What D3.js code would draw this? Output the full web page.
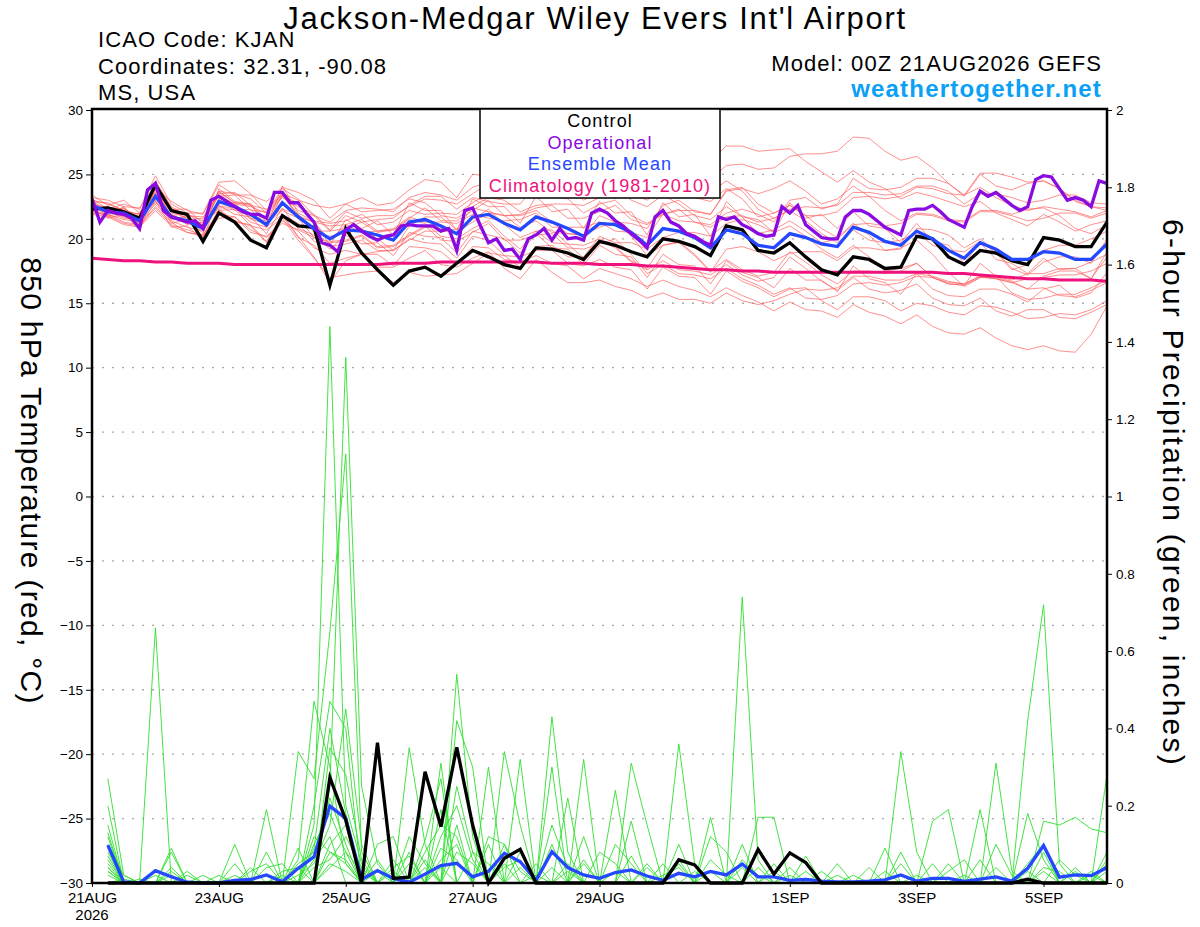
<!DOCTYPE html>
<html>
<head>
<meta charset="utf-8">
<script src="https://cdn.jsdelivr.net/npm/d3@7"></script>
<style>
  body { margin: 0; background: #fff; }
  svg { display: block; font-family: "Liberation Sans", Arial, Helvetica, sans-serif; }
</style>
</head>
<body>
<svg id="chart" width="1200" height="927"></svg>
<script>
// GEFS plume for KJAN, run 00Z 21AUG2026, 6-hourly out to 384 h
const runStart = Date.UTC(2026, 7, 21, 0);
const HOUR = 3600e3;

const tempTicks = [-30, -25, -20, -15, -10, -5, 0, 5, 10, 15, 20, 25, 30];
const precipTicks = [0, 0.2, 0.4, 0.6, 0.8, 1, 1.2, 1.4, 1.6, 1.8, 2];
const dateTicks = ["2026-08-21", "2026-08-23", "2026-08-25", "2026-08-27", "2026-08-29", "2026-09-01", "2026-09-03", "2026-09-05"];
const legendItems = ["Control", "Operational", "Ensemble Mean", "Climatology (1981-2010)"];

// 850 hPa temperature, 6-hourly (65 values, 0..384 h)
const controlTemp = [22.3,22.4,22.1,21.6,24.2,22.2,21.9,19.8, 22.0,21.3,19.9,19.3,21.8,21.0,20.9,16.4,
  20.8,18.9,17.6,16.4,17.5,17.8,17.1,18.1, 19.1,18.6,18.0,17.7,19.3,19.2,18.9,18.4,
  19.8,19.5,19.0,18.6,20.0,19.8,19.4,18.7, 21.0,20.7,19.1,18.9,19.7,18.6,17.6,17.2,
  18.6,18.4,17.7,17.8,20.2,20.0,18.6,18.0, 19.1,18.9,18.3,18.0,20.1,19.9,19.4,19.4,21.3];
const meanTemp = [22.6,22.1,22.0,21.4,23.3,21.7,21.4,20.8, 22.9,22.5,21.9,21.1,22.8,21.7,20.8,20.0,
  20.7,20.6,20.3,19.9,21.3,21.5,21.0,20.4, 21.7,21.9,21.2,20.7,21.7,21.3,20.8,20.2,
  21.2,21.1,20.5,19.5,20.8,20.6,20.1,19.3, 20.7,20.4,19.5,19.3,20.4,20.1,19.6,19.4,
  20.9,20.5,19.8,19.5,20.6,20.0,19.1,18.5, 19.7,19.2,18.4,18.4,19.0,18.9,18.4,18.4,19.6];
const climoTemp = [18.5,18.4,18.3,18.3,18.2,18.2,18.1,18.1, 18.1,18.0,18.0,18.0,18.0,18.0,18.0,18.0,
  18.0,18.0,18.0,18.1,18.1,18.1,18.2,18.2, 18.2,18.2,18.2,18.2,18.2,18.1,18.1,18.1,
  18.0,18.0,18.0,17.9,17.9,17.8,17.7,17.6, 17.6,17.5,17.5,17.4,17.4,17.4,17.4,17.4,
  17.4,17.4,17.4,17.4,17.4,17.4,17.3,17.3, 17.2,17.1,17.0,16.9,16.9,16.8,16.8,16.8,16.7];
// operational run is 3-hourly (129 values)
const operationalTemp = [23.1,21.3,22.2,22.0,21.9,21.6,20.8,23.8,24.3,22.2,
  21.7,21.5,21.3,21.4,20.8,23.0,23.3,22.9,22.5,22.1,
  21.9,21.9,21.6,23.6,23.6,22.8,22.8,22.0,21.3,19.7,
  19.5,19.0,20.7,21.1,20.6,20.2,19.9,20.2,20.3,21.0,
  21.1,21.0,21.0,21.0,20.6,20.8,19.1,22.2,22.4,21.0,
  19.7,20.0,19.1,19.2,18.4,20.0,20.3,20.8,19.9,20.8,
  20.0,20.1,19.9,22.0,22.3,22.0,21.4,21.0,20.4,19.9,
  19.3,21.7,22.2,21.3,21.0,20.4,20.2,19.8,19.5,21.7,
  21.5,21.7,21.1,20.8,20.4,20.2,20.3,22.5,22.0,22.6,
  21.1,20.6,20.1,20.0,20.0,21.7,22.2,22.2,21.9,21.4,
  20.9,20.6,20.3,22.2,22.3,22.3,22.6,22.1,21.5,21.2,
  20.9,22.5,23.7,23.3,23.6,23.1,22.6,22.2,22.5,24.6,
  24.9,24.8,23.9,23.0,23.2,23.0,22.5,24.5,24.3];

const tempMembers = [
  [23.0,22.7,22.2,21.9,24.1,22.0,21.9,21.4, 23.7,23.5,23.1,22.0,23.9,23.1,21.8,21.3, 22.2,22.4,22.3,22.1,23.2,23.6,23.4,23.0, 24.0,24.4,24.1,23.8,24.5,24.3,24.1,23.7, 24.4,24.7,24.5,23.9,24.9,25.1,25.0,24.6, 25.7,25.8,25.4,25.5,26.4,26.6,26.6,26.8, 27.9,27.8,26.8,26.1,26.4,25.5,24.3,23.4, 24.0,23.2,22.6,22.2,22.5,22.3,22.1,21.7,22.2],
  [22.1,21.8,21.2,21.0,22.4,21.1,20.7,20.3, 21.9,21.7,20.7,20.1,21.4,20.6,19.3,18.8, 19.1,18.8,18.8,17.9,19.4,19.3,19.0,18.0, 19.4,19.3,18.4,18.2,18.7,18.1,17.9,16.9, 17.7,17.3,16.9,16.3,16.8,16.3,16.0,15.5, 16.2,15.6,15.1,14.4,15.1,14.5,14.4,13.9, 14.9,14.3,14.0,13.4,14.1,13.2,12.7,12.6, 13.1,12.3,11.7,11.4,11.7,11.3,11.2,12.6,14.8],
  [22.9,22.2,22.4,21.6,23.9,22.1,21.6,21.1, 23.4,22.7,22.5,22.0,23.2,22.5,21.9,20.7, 22.1,21.6,21.8,21.8,22.5,23.1,23.0,22.7, 23.5,24.3,24.0,24.0,24.6,24.9,24.8,24.6, 25.4,25.9,25.7,25.3,26.2,26.5,26.4,26.1, 27.2,27.2,26.8,26.9,27.0,26.0,25.2,24.4, 25.3,24.4,23.9,23.1,23.6,23.3,22.9,22.5, 22.9,22.0,21.5,21.0,21.9,21.3,20.6,21.1,21.4],
  [22.4,21.6,21.9,20.8,23.0,20.9,21.0,19.9, 22.3,21.4,21.0,19.7,21.8,20.1,19.5,18.1, 18.5,18.8,17.8,17.8,18.5,19.1,18.0,17.8, 18.5,19.0,17.7,16.9,18.4,17.4,16.6,16.6, 16.8,16.3,16.0,15.4,15.8,15.3,15.3,15.0, 15.8,15.2,14.9,15.2,15.7,16.1,16.0,16.2, 17.1,17.1,16.8,16.8,17.3,17.1,16.7,16.5, 17.1,16.9,16.6,16.9,17.0,17.2,17.2,17.5,18.1],
  [23.2,23.0,22.5,22.4,24.0,22.9,22.2,21.9, 24.2,23.4,23.4,22.9,24.0,23.6,23.0,21.6, 22.7,23.2,22.6,22.8,23.8,24.6,24.4,23.2, 25.0,24.9,23.8,23.8,24.1,23.3,23.1,22.0, 22.7,23.0,21.8,21.2,21.9,21.4,21.3,20.9, 21.7,21.8,21.3,21.6,22.3,22.5,22.4,22.6, 23.6,23.6,23.4,23.5,24.1,24.1,23.7,22.7, 23.5,23.5,23.2,22.8,23.0,23.4,23.4,22.8,22.7],
  [22.2,21.9,21.5,21.3,22.7,21.4,20.9,20.6, 22.6,21.9,21.7,20.4,22.4,20.8,20.3,19.2, 20.3,19.6,19.7,18.7,20.5,20.2,20.1,18.9, 20.6,20.3,20.0,18.9,20.4,19.3,19.2,18.0, 19.5,18.8,18.6,17.0,18.8,18.0,17.9,16.5, 18.3,17.4,17.0,16.2,17.7,16.8,16.8,15.9, 17.9,16.9,16.6,15.7,17.3,16.1,15.6,15.5, 16.1,16.1,15.7,15.1,16.1,16.4,15.4,15.8,17.4],
  [22.8,21.8,22.5,21.2,24.2,21.6,21.7,20.4, 23.9,22.9,22.7,20.9,24.1,22.0,21.4,19.5, 21.5,20.8,21.4,20.3,22.8,22.2,22.2,20.7, 23.1,22.5,22.5,21.2,23.3,22.1,22.3,20.8, 22.9,22.0,22.1,20.3,22.8,21.7,21.9,20.2, 22.9,21.7,21.5,20.5,22.8,21.6,21.9,20.8, 22.1,21.0,20.8,19.7,21.2,19.8,19.5,18.1, 19.7,18.4,18.1,17.3,18.5,17.6,17.7,16.9,19.0],
  [22.5,22.4,21.8,21.8,22.8,21.9,21.1,21.3, 22.2,22.3,21.0,20.7,21.6,19.9,18.5,17.0, 17.2,17.4,17.5,16.6,17.4,17.1,17.2,17.3, 18.1,18.9,18.7,17.8,19.4,19.5,18.6,18.6, 20.2,19.7,19.7,19.2,20.1,20.5,20.5,20.2, 21.2,21.5,21.1,20.5,21.0,20.2,19.2,18.5, 19.5,18.6,17.5,17.7,18.1,17.0,16.5,16.4, 17.0,17.0,16.7,16.1,17.1,17.5,17.5,16.9,18.6],
  [23.1,22.3,22.7,22.3,24.9,22.7,22.0,22.0, 24.4,24.5,23.5,22.2,23.5,23.0,22.6,22.4, 22.7,22.1,22.2,22.3,23.1,22.8,21.8,21.6, 22.4,22.1,21.8,21.8,22.2,21.3,20.4,20.3, 20.9,21.3,21.2,20.8,22.6,23.0,22.1,21.9, 23.7,23.9,23.5,23.9,24.5,23.7,22.7,23.1, 24.1,23.3,22.2,21.4,22.0,21.9,21.5,21.4, 22.2,22.2,21.9,22.3,22.4,21.8,20.8,20.4,21.1],
  [22.7,21.7,22.2,20.8,23.6,21.2,21.5,20.1, 23.1,22.2,22.3,20.9,23.4,21.7,21.3,19.9, 21.1,21.5,20.6,20.7,21.5,21.2,20.2,20.0, 20.8,21.4,20.2,19.2,20.6,20.7,19.6,18.5, 19.9,19.3,18.2,17.6,18.3,17.6,17.5,17.2, 18.0,17.2,16.7,17.0,18.6,17.7,16.7,16.0, 17.0,16.1,15.8,16.0,16.5,15.4,14.9,14.8, 15.4,14.4,14.0,14.5,14.5,13.9,13.8,14.3,14.9],
  [22.3,22.1,21.6,21.5,23.1,21.9,21.3,21.1, 22.5,22.6,21.6,21.4,22.3,21.9,20.6,20.6, 20.8,21.3,20.5,20.7,21.6,22.4,21.4,21.4, 22.2,23.0,21.8,21.9,22.4,22.6,21.6,21.6, 22.1,22.6,21.5,21.1,21.9,22.3,21.3,21.1, 22.0,22.3,21.9,21.3,23.0,23.2,22.3,22.7, 24.7,23.9,23.8,24.0,24.7,24.7,24.3,23.3, 25.0,24.1,23.8,24.3,24.5,23.9,23.0,22.5,22.4],
  [23.0,22.0,22.3,21.1,23.8,21.5,21.8,20.7, 22.7,22.8,21.5,21.2,22.2,21.6,20.1,19.8, 19.9,20.3,19.4,19.5,20.3,21.0,19.9,19.8, 20.5,21.2,19.9,19.9,20.3,20.4,19.3,19.2, 19.6,20.0,18.8,17.3,18.0,17.3,17.2,16.9, 17.7,16.9,16.4,15.7,16.2,15.4,15.3,15.6, 16.5,16.6,16.4,16.6,17.1,17.0,16.6,16.5, 17.1,17.1,16.8,17.3,17.3,17.7,17.7,18.2,18.8],
  [22.6,22.5,21.7,22.0,23.5,22.4,21.5,21.6, 23.3,23.4,22.2,22.1,23.3,22.8,21.4,21.2, 21.4,21.9,21.1,21.3,22.2,21.9,22.0,21.9, 22.8,23.5,23.3,23.3,23.9,24.0,24.0,23.0, 23.6,24.0,23.0,22.5,23.4,22.7,21.8,21.5, 22.5,21.7,20.4,20.7,21.4,20.6,19.7,20.0, 21.1,21.2,21.0,21.2,21.9,21.8,21.4,21.3, 22.1,22.1,21.8,21.4,21.6,22.0,22.0,21.6,22.0],
  [22.0,21.9,21.3,21.1,22.5,21.3,20.5,20.3, 22.2,21.3,21.1,19.8,21.9,21.2,19.8,19.4, 19.6,19.9,19.1,19.1,20.0,19.7,19.6,18.5, 20.2,19.9,18.7,18.6,19.1,19.1,18.1,17.9, 18.4,17.8,17.6,16.1,17.8,17.1,17.0,15.7, 17.5,16.7,16.2,15.5,16.1,16.2,15.2,14.5, 15.5,15.5,15.2,14.4,15.0,14.8,14.3,14.1, 14.8,14.7,14.3,13.8,13.9,14.2,14.1,14.5,15.2],
  [22.9,22.8,22.2,21.9,23.2,22.3,22.3,21.2, 23.7,22.8,22.6,22.3,23.4,21.8,21.3,21.0, 21.1,20.5,20.6,20.8,21.7,21.3,21.3,21.2, 21.9,21.6,21.4,21.5,22.0,20.9,20.9,20.9, 21.3,20.6,20.5,20.1,21.9,22.2,22.2,21.9, 23.8,24.0,22.7,22.0,22.6,21.8,20.8,20.1, 21.2,20.3,19.1,19.2,20.8,20.7,20.3,19.3, 20.0,19.0,17.7,17.2,18.2,18.6,18.6,18.1,20.0],
  [22.4,22.2,21.7,21.6,22.9,21.8,21.2,21.1, 22.4,22.4,21.3,20.9,21.9,20.2,18.6,16.6, 18.3,18.8,19.0,19.1,19.9,20.6,20.6,20.5, 21.3,22.0,21.8,20.9,21.4,20.5,20.4,20.3, 21.8,21.3,20.2,18.7,19.5,19.7,18.7,17.4, 19.2,19.4,19.0,18.3,18.9,19.0,19.0,18.3, 19.3,19.3,19.1,19.3,19.9,18.8,17.4,16.3, 17.0,16.9,16.6,16.1,16.2,15.6,15.5,16.0,16.6],
  [22.8,22.0,22.4,21.4,23.8,21.8,22.0,21.0, 23.6,22.8,22.7,21.5,23.7,22.2,21.8,20.6, 21.8,21.3,21.5,21.6,22.6,23.3,23.3,22.3, 23.2,22.9,22.7,22.7,24.2,24.3,24.3,23.3, 24.8,25.2,25.1,24.6,25.5,25.8,24.9,23.6, 24.5,23.7,22.3,21.6,22.2,21.4,20.4,19.7, 20.7,19.9,19.7,19.9,20.5,19.5,19.1,19.0, 19.8,18.9,17.6,18.0,19.1,19.5,19.5,20.0,20.6],
  [21.9,21.7,21.1,20.9,22.2,21.0,20.5,20.2, 21.6,21.7,20.5,20.2,21.2,20.7,20.1,19.7, 19.8,20.2,19.3,19.4,20.2,20.9,20.8,20.7, 21.5,22.3,21.1,20.1,20.6,19.7,19.6,19.5, 20.0,19.4,18.3,17.7,19.5,19.8,18.8,17.5, 18.4,17.6,17.1,17.4,19.0,18.2,17.2,16.5, 17.5,17.5,17.3,17.5,18.1,17.0,16.5,16.4, 18.1,17.1,15.8,15.3,15.4,15.7,15.7,16.2,16.8],
  [23.4,22.6,23.0,22.0,24.5,22.5,21.8,21.7, 23.5,23.6,22.6,21.3,23.4,21.9,20.5,20.2, 20.4,20.8,20.0,19.1,21.0,21.7,21.7,20.7, 22.5,23.2,23.0,22.1,22.6,22.7,22.7,22.6, 23.2,23.6,23.5,23.0,23.9,23.2,23.2,22.9, 23.9,23.1,21.7,22.0,22.6,21.8,21.8,22.1, 23.2,23.3,23.1,23.3,24.0,23.9,23.5,23.4, 25.1,25.1,24.8,24.4,24.5,23.9,22.9,22.5,22.2]
];

// 6-hour precipitation (inches), 64 values valid 6..384 h
const controlPrecip = [0,0,0,0,0,0,0,0, 0,0,0,0,0,0,0.273,0.163,
  0,0.363,0.012,0.015,0.288,0.146,0.351,0.150, 0,0.064,0.087,0,0,0,0,0,
  0,0,0,0,0.060,0.047,0,0, 0,0.087,0.023,0.078,0.053,0,0,0,
  0,0,0,0,0,0,0,0, 0,0,0.010,0,0,0,0,0];
const meanPrecip = [0.098,0.003,0,0.032,0.016,0.002,0,0, 0.007,0.009,0.021,0.003,0.038,0.068,0.199,0.167,
  0.009,0.032,0.012,0.002,0.023,0.045,0.051,0.016, 0.030,0.077,0.055,0.007,0.081,0.040,0.021,0.012,
  0.027,0.034,0.018,0.007,0.025,0.016,0.030,0.021, 0.049,0.016,0.016,0.007,0.009,0.005,0.003,0.003,
  0.005,0.008,0.021,0.005,0.012,0.012,0.004,0.010, 0.016,0.005,0.038,0.097,0.015,0.021,0.019,0.040];
const precipMembers = [
  [.27,.02,0,0,0,0,0,0, 0,0,0,0,.06,.47,.30,.05, 0,0,0,.08,0,0,.15,0, 0,0,0,0,.43,.08,0,0, 0,0,0,0,0,0,0,0, .10,0,0,0,0,0,0,0, 0,0,0,0,0,0,0,0, 0,0,.42,.72,.05,0,0,0],
  [.20,0,0,.66,0,0,0,0, 0,0,0,0,0,.15,1.44,.20, .05,0,0,0,0,.31,0,0, 0,.34,.15,0,0,0,0,0, 0,0,0,0,.36,.05,0,0, 0,0,0,0,0,0,0,0, 0,0,0,0,0,0,0,0, .31,.03,0,0,0,0,0,0],
  [.13,0,0,0,.09,0,0,0, 0,0,0,0,.34,.27,.65,1.11, .08,0,0,0,0,0,.54,.12, 0,0,0,0,0,0,0,0, .24,0,0,0,0,0,0,0, .74,.06,0,0,0,0,0,0, 0,0,0,0,0,0,0,0, 0,0,0,0,0,0,0,.28],
  [.12,0,0,0,.08,0,0,0, 0,0,.19,0,0,0,.25,1.36, .25,.05,0,0,0,.19,0,0, 0,0,0,0,0,0,.32,0, 0,0,0,0,0,0,.17,0, 0,0,0,0,0,0,0,0, 0,0,.34,.08,0,0,0,0, 0,0,0,.16,.15,.17,.14,.13],
  [.09,0,0,0,0,0,0,0, .10,0,0,0,0,.20,.47,.40, 0,0,0,.35,.10,0,0,0, .30,0,0,0,.30,0,0,0, 0,.31,.15,0,0,0,0,0, 0,0,0,0,0,0,0,0, 0,0,0,0,.16,.19,0,0, 0,0,0,0,0,0,0,0],
  [.06,0,0,0,.04,0,0,0, 0,0,0,0,.09,0,.10,.15, 0,.10,.12,0,0,0,.42,.30, 0,0,.32,0,0,.22,0,0, 0,0,0,0,0,0,0,0, 0,.17,.17,0,0,0,0,0, 0,0,0,0,0,0,0,.19, 0,0,0,0,0,0,0,0],
  [.04,0,0,0,0,.02,0,0, 0,0,.08,0,0,.06,.12,0, 0,0,.06,0,.11,.27,0,0, .12,.10,0,0,0,0,.12,0, 0,.16,0,0,.10,0,0,0, 0,0,.05,0,0,0,0,0, 0,.09,0,0,0,.03,.06,0, 0,0,0,0,0,0,0,0],
  [.03,0,0,0,0,0,0,0, .05,0,0,.03,.04,0,.08,.06, 0,0,0,0,.06,0,0,0, 0,0,0,0,.10,0,0,.08, .05,0,0,0,0,0,.12,.08, 0,0,0,0,.07,0,0,0, .04,0,.08,0,0,0,0,0, 0,0,0,0,0,.03,0,0],
  [0,.01,0,0,0,0,0,0, 0,.04,0,0,0,.10,.18,.08, .03,0,0,.05,0,0,.08,.05, 0,0,0,.05,0,0,0,0, 0,0,0,.05,0,0,0,0, 0,0,0,.04,0,0,.05,0, 0,0,0,0,0,0,0,0, 0,0,.18,.06,0,0,0,0],
  [.05,0,0,0,0,0,.02,0, 0,0,0,0,0,.04,.06,.12, .04,0,0,0,0,.06,.10,0, 0,.04,.06,0,0,.03,0,0, 0,0,.04,0,0,.03,0,0, 0,0,0,0,0,.03,0,.02, 0,0,0,0,0,0,0,0, .04,0,0,0,0,0,0,.05],
  [.02,0,.01,0,0,0,0,.02, 0,0,0,.02,0,0,.04,.08, 0,.03,0,0,.04,0,0,.08, .05,0,0,0,.04,0,0,0, .03,0,0,0,.06,0,0,0, .04,0,0,0,0,0,0,0, 0,0,0,.02,0,0,0,0, 0,0,0,.04,.03,0,.02,0],
  [.08,0,0,0,.03,0,0,0, 0,0,0,0,.05,.08,.22,.10, 0,0,.04,.07,0,.09,.06,0, 0,0,.08,0,0,0,.05,0, 0,0,0,0,0,0,.06,.02, 0,0,0,0,.03,0,0,0, 0,0,0,0,0,0,0,0, .10,.02,0,0,0,.04,0,.08],
  [.10,.02,0,0,0,0,0,0, 0,.03,.05,0,0,0,.35,.28, .06,0,0,0,0,.12,.20,.06, 0,.05,0,0,0,.05,0,0, 0,.07,0,0,0,0,0,0, 0,.04,0,0,0,0,0,0, 0,0,0,0,.05,0,0,.06, 0,0,.05,.10,0,0,0,0],
  [.04,0,0,0,0,.03,0,0, 0,0,0,0,0,.12,.08,.05, 0,.06,0,.12,.05,0,0,0, .10,0,0,0,.15,.04,0,0, 0,0,0,.02,.04,0,0,0, 0,0,.03,0,0,0,0,0, 0,0,.05,0,0,0,0,0, 0,0,0,.03,0,0,0,.03],
  [.15,0,0,.02,0,0,0,0, .02,0,0,0,.02,.05,.15,.45, .10,0,0,0,0,0,.25,.08, 0,0,.04,0,0,0,0,0, .10,.05,0,0,0,0,0,0, .06,.02,0,0,0,0,0,0, 0,0,0,0,0,0,.02,0, 0,0,0,0,.06,.02,0,0],
  [.03,0,0,0,0,0,0,0, 0,0,.04,.05,0,0,.05,.03, 0,0,0,0,0,.04,0,0, 0,.10,.03,0,0,0,0,0, 0,0,.05,0,0,0,.03,0, 0,0,0,0,0,0,.02,0, 0,.03,0,0,0,0,0,0, 0,0,.03,0,0,0,0,.06],
  [.07,0,0,0,.02,0,0,0, 0,0,0,0,0,.09,.40,.18, 0,0,.03,0,.08,.15,.12,0, 0,0,0,.02,0,0,.06,0, 0,0,0,0,.05,0,0,0, 0,0,0,.02,0,0,0,0, 0,0,0,0,0,.05,0,0, 0,0,0,.08,0,0,.03,0]
];

const colors = {
  member: "#ff5a5a",
  precip: "#2fe02f",
  control: "#000000",
  operational: "#8a0ae2",
  mean: "#2448ff",
  climo: "#f0127c",
  brand: "#0aa0f5"
};

const margin = { left: 92, right: 1107, top: 109, bottom: 883 };
const svg = d3.select("#chart");

const x = d3.scaleUtc()
  .domain([new Date(runStart), new Date(runStart + 384 * HOUR)])
  .range([margin.left, margin.right]);
const yT = d3.scaleLinear().domain([-30, 30]).range([margin.bottom, margin.top + 1]);
const yP = d3.scaleLinear().domain([0, 2]).range([margin.bottom, margin.top + 1]);

const t6 = i => new Date(runStart + i * 6 * HOUR);
const t3 = j => new Date(runStart + j * 3 * HOUR);

svg.append("clipPath").attr("id", "plotClip")
  .append("rect")
  .attr("x", margin.left).attr("y", margin.top - 2)
  .attr("width", margin.right - margin.left).attr("height", margin.bottom - margin.top + 6);

// dotted grid on the temperature ticks
svg.append("g")
  .selectAll("line")
  .data(tempTicks.filter(v => v > -30 && v < 30))
  .join("line")
  .attr("x1", margin.left).attr("x2", margin.right)
  .attr("y1", d => yT(d)).attr("y2", d => yT(d))
  .attr("stroke", "#a8a8a8").attr("stroke-width", 1.4)
  .attr("stroke-dasharray", "2,8");

const plot = svg.append("g").attr("clip-path", "url(#plotClip)");

const tempLine = d3.line().x((d, i) => x(t6(i))).y(d => yT(d));
const opLine = d3.line().x((d, j) => x(t3(j))).y(d => yT(d));
const precipLine = d3.line().x((d, i) => x(t6(i + 1))).y(d => yP(d));

plot.append("g").selectAll("path")
  .data(tempMembers).join("path")
  .attr("d", tempLine)
  .attr("fill", "none").attr("stroke", colors.member)
  .attr("stroke-width", 0.8).attr("stroke-opacity", 0.85);

plot.append("g").selectAll("path")
  .data(precipMembers).join("path")
  .attr("d", precipLine)
  .attr("fill", "none").attr("stroke", colors.precip)
  .attr("stroke-width", 0.9);

plot.append("path").datum(climoTemp).attr("d", tempLine)
  .attr("fill", "none").attr("stroke", colors.climo).attr("stroke-width", 3);
plot.append("path").datum(controlTemp).attr("d", tempLine)
  .attr("fill", "none").attr("stroke", colors.control).attr("stroke-width", 3.3);
plot.append("path").datum(meanTemp).attr("d", tempLine)
  .attr("fill", "none").attr("stroke", colors.mean).attr("stroke-width", 3.3);
plot.append("path").datum(operationalTemp).attr("d", opLine)
  .attr("fill", "none").attr("stroke", colors.operational).attr("stroke-width", 3.3);

plot.append("path").datum(meanPrecip).attr("d", precipLine)
  .attr("fill", "none").attr("stroke", colors.mean).attr("stroke-width", 3.3);
plot.append("path").datum(controlPrecip).attr("d", precipLine)
  .attr("fill", "none").attr("stroke", colors.control).attr("stroke-width", 3.3);

// frame
svg.append("rect")
  .attr("x", margin.left).attr("y", margin.top)
  .attr("width", margin.right - margin.left).attr("height", margin.bottom - margin.top)
  .attr("fill", "none").attr("stroke", "#000").attr("stroke-width", 2.5);

// axes
const leftAxis = svg.append("g")
  .attr("transform", `translate(${margin.left},0)`)
  .call(d3.axisLeft(yT).tickValues(tempTicks).tickSize(6).tickPadding(3));
leftAxis.select(".domain").remove();
leftAxis.selectAll("text").attr("font-size", 13.5).attr("fill", "#000");

const rightAxis = svg.append("g")
  .attr("transform", `translate(${margin.right},0)`)
  .call(d3.axisRight(yP).tickValues(precipTicks).tickSize(5).tickPadding(4)
    .tickFormat(d => String(+d.toFixed(1))));
rightAxis.select(".domain").remove();
rightAxis.selectAll("text").attr("font-size", 13.5).attr("fill", "#000");

const dayFmt = d3.utcFormat("%-d%b");
const bottomAxis = svg.append("g")
  .attr("transform", `translate(0,${margin.bottom})`)
  .call(d3.axisBottom(x).tickValues(dateTicks.map(d => new Date(d + "T00:00:00Z")))
    .tickSize(4).tickPadding(5).tickFormat(d => dayFmt(d).toUpperCase()));
bottomAxis.select(".domain").remove();
bottomAxis.selectAll("text").attr("font-size", 15).attr("fill", "#000");
svg.append("text")
  .attr("x", x(new Date(runStart))).attr("y", 920)
  .attr("text-anchor", "middle").attr("font-size", 15)
  .text("2026");

// axis titles
svg.append("text")
  .attr("transform", "translate(29,481) rotate(90)")
  .attr("text-anchor", "middle").attr("dominant-baseline", "middle")
  .attr("font-size", 30).attr("letter-spacing", 1.3)
  .text("850 hPa Temperature (red, °C)");
svg.append("text")
  .attr("transform", "translate(1171,493) rotate(90)")
  .attr("text-anchor", "middle").attr("dominant-baseline", "middle")
  .attr("font-size", 30).attr("letter-spacing", 2.2)
  .text("6-hour Precipitation (green, inches)");

// header
svg.append("text")
  .attr("x", 595).attr("y", 29).attr("text-anchor", "middle")
  .attr("font-size", 31).attr("letter-spacing", 1.7)
  .text("Jackson-Medgar Wiley Evers Int'l Airport");

const infoLines = ["ICAO Code: KJAN", "Coordinates: 32.31, -90.08", "MS, USA"];
svg.append("g").selectAll("text")
  .data(infoLines).join("text")
  .attr("x", 98).attr("y", (d, i) => 47 + i * 26.5)
  .attr("font-size", 22).attr("letter-spacing", 1.1)
  .text(d => d);

svg.append("text")
  .attr("x", 1102).attr("y", 71).attr("text-anchor", "end")
  .attr("font-size", 22).attr("letter-spacing", 1.1)
  .text("Model: 00Z 21AUG2026 GEFS");
svg.append("text")
  .attr("x", 1102).attr("y", 97).attr("text-anchor", "end")
  .attr("font-size", 24).attr("font-weight", "bold").attr("letter-spacing", 1.2)
  .attr("fill", colors.brand)
  .text("weathertogether.net");

// legend
const legend = svg.append("g");
legend.append("rect")
  .attr("x", 480).attr("y", margin.top).attr("width", 240).attr("height", 89)
  .attr("fill", "#fff").attr("stroke", "#000").attr("stroke-width", 1.5);
const legendColors = [colors.control, colors.operational, colors.mean, colors.climo];
legend.selectAll("text")
  .data(legendItems).join("text")
  .attr("x", 600).attr("y", (d, i) => 127 + i * 21.6)
  .attr("text-anchor", "middle")
  .attr("font-size", 18).attr("letter-spacing", 1.1)
  .attr("fill", (d, i) => legendColors[i])
  .text(d => d);
</script>
</body>
</html>
